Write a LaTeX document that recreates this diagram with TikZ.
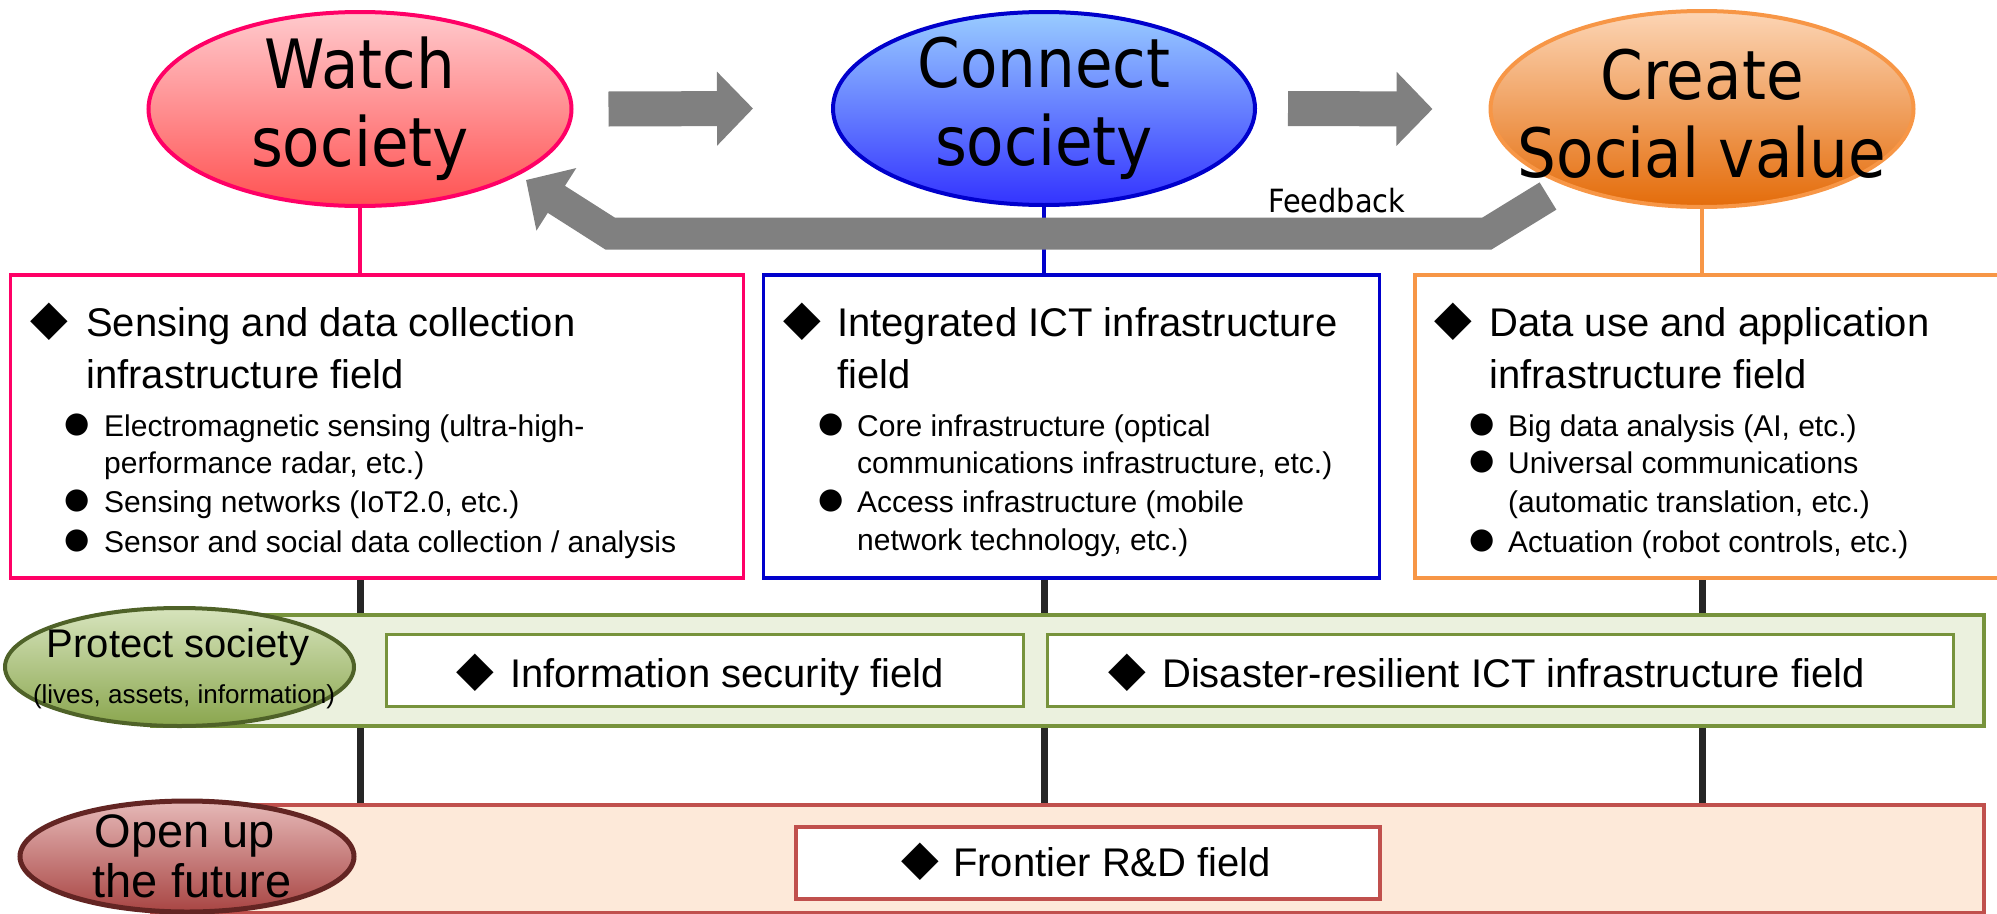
\documentclass[tikz,border=0pt]{standalone}
\usepackage{fontspec}
\setmainfont{Liberation Sans}
\newfontfamily\ellfont[FakeStretch=0.9]{DejaVu Sans}
\newfontfamily\symfont{DejaVu Sans}
\usetikzlibrary{shapes.geometric,arrows.meta,backgrounds}
\definecolor{wpink}{HTML}{FF0066}
\definecolor{wtop}{HTML}{FFCACD}
\definecolor{wbot}{HTML}{FF5252}
\definecolor{cblue}{HTML}{0000CC}
\definecolor{ctop}{HTML}{99CCFF}
\definecolor{cbot}{HTML}{3333FF}
\definecolor{corange}{HTML}{F79646}
\definecolor{otop}{HTML}{FCD5B5}
\definecolor{obot}{HTML}{E46C0A}
\definecolor{arrgray}{HTML}{808080}
\definecolor{gline}{HTML}{77933C}
\definecolor{gfill}{HTML}{EBF1DE}
\definecolor{gdark}{HTML}{4F6228}
\definecolor{gtop}{HTML}{D7E4BD}
\definecolor{gbot}{HTML}{8AA64E}
\definecolor{rline}{HTML}{C0504D}
\definecolor{rfill}{HTML}{FDE9D9}
\definecolor{rdark}{HTML}{632523}
\definecolor{rtop}{HTML}{E6B9B8}
\definecolor{rbot}{HTML}{A84543}
\definecolor{conncol}{HTML}{262626}
\begin{document}
\begin{tikzpicture}[x=1pt,y=-1pt,
  ell/.style={ellipse, inner sep=0pt, line width=4pt},
  elltext/.style={align=center, inner sep=0pt, font=\ellfont\fontsize{68}{78}\selectfont},
  fieldbox/.style={draw, line width=3.5pt, fill=white, anchor=north west, inner sep=0pt},
  band/.style={draw, line width=3.5pt, anchor=north west, inner sep=0pt},
  head/.style={anchor=base west, inner sep=0pt, font=\fontsize{40}{48}\selectfont},
  sub/.style={anchor=base west, inner sep=0pt, font=\fontsize{30}{36}\selectfont},
  dia/.style={anchor=center, inner sep=0pt, font=\symfont\fontsize{49}{54}\selectfont},
  dot/.style={anchor=center, inner sep=0pt, font=\symfont\fontsize{29}{34}\selectfont},
  flowarrow/.style={arrgray, line width=35pt, -{Triangle[length=36pt,width=72pt]}},
  fbarrow/.style={arrgray, line width=32pt, line join=miter, -{Triangle[length=36pt,width=72pt]}},
  stem/.style={line width=4pt},
  conn/.style={conncol, line width=7pt}
]
\useasboundingbox (0,0) rectangle (1997,913);

% top ellipses
\node[ell, draw=wpink, top color=wtop, bottom color=wbot, minimum width=423pt, minimum height=194pt] (watch) at (360,109) {};
\node[elltext] (watchtxt) at (watch.center) {Watch\\society};
\node[ell, draw=cblue, top color=ctop, bottom color=cbot, minimum width=422pt, minimum height=193pt] (connect) at (1044,108.5) {};
\node[elltext] (connecttxt) at (connect.center) {Connect\\society};
\node[ell, draw=corange, top color=otop, bottom color=obot, minimum width=423pt, minimum height=196pt] (create) at (1702,109) {};
\node[elltext] (createtxt) at ([yshift=-5pt]create.center) {Create\\Social value};

% flow arrows
\draw[flowarrow] ([xshift=35pt]watch.east) -- ([xshift=-78pt]connect.west);
\draw[flowarrow] ([xshift=31pt]connect.east) -- ([xshift=-56pt]create.west);

% field boxes
\node[fieldbox, draw=wpink, minimum width=733pt, minimum height=303pt] (wbox) at (8.7,273) {};
\node[fieldbox, draw=cblue, minimum width=616pt, minimum height=303pt] (cbox) at (761.5,273) {};
\node[fieldbox, draw=corange, minimum width=600pt, minimum height=303pt] (obox) at (1413,273) {};

% pink box text
\node[dia] at (49,322) {◆};
\node[head] at (86,336) {Sensing and data collection};
\node[head] at (86,388) {infrastructure field};
\node[dot] at (77,425) {●};
\node[sub] at (104,436) {Electromagnetic sensing (ultra-high-};
\node[sub] at (104,473) {performance radar, etc.)};
\node[dot] at (77,501) {●};
\node[sub] at (104,512) {Sensing networks (IoT2.0, etc.)};
\node[dot] at (77,541) {●};
\node[sub] at (104,552) {Sensor and social data collection / analysis};

% blue box text
\node[dia] at (802,322) {◆};
\node[head] at (837,336) {Integrated ICT infrastructure};
\node[head] at (837,388) {field};
\node[dot] at (831,425) {●};
\node[sub] at (857,436) {Core infrastructure (optical};
\node[sub] at (857,473) {communications infrastructure, etc.)};
\node[dot] at (831,501) {●};
\node[sub] at (857,512) {Access infrastructure (mobile};
\node[sub] at (857,550) {network technology, etc.)};

% orange box text
\node[dia] at (1453,322) {◆};
\node[head] at (1489,336) {Data use and application};
\node[head] at (1489,388) {infrastructure field};
\node[dot] at (1482,425) {●};
\node[sub] at (1508,436) {Big data analysis (AI, etc.)};
\node[dot] at (1482,462) {●};
\node[sub] at (1508,473) {Universal communications};
\node[sub] at (1508,512) {(automatic translation, etc.)};
\node[dot] at (1482,541) {●};
\node[sub] at (1508,552) {Actuation (robot controls, etc.)};

% protect band
\node[band, draw=gline, fill=gfill, minimum width=1832pt, minimum height=111pt] (pband) at (150,613) {};
\node[fieldbox, draw=gline, line width=3pt, minimum width=637pt, minimum height=72pt] (infobox) at (385,633) {};
\node[fieldbox, draw=gline, line width=3pt, minimum width=906pt, minimum height=72pt] (disbox) at (1046,633) {};
\node[dia] at (475,673) {◆};
\node[head] at (510,687) {Information security field};
\node[dia] at (1127,673) {◆};
\node[head] at (1162,687) {Disaster-resilient ICT infrastructure field};
\node[ell, draw=gdark, top color=gtop, bottom color=gbot, minimum width=349pt, minimum height=118pt] (protect) at (179.5,667) {};
\node[anchor=base, inner sep=0pt, font=\fontsize{40}{44}\selectfont] (protecttxt) at (178,657) {Protect society};
\node[anchor=base, inner sep=0pt, font=\fontsize{26}{30}\selectfont] (protectsub) at (184,703) {(lives, assets, information)};

% frontier band
\node[band, draw=rline, fill=rfill, minimum width=1832pt, minimum height=108pt] (fband) at (150,803) {};
\node[fieldbox, draw=rline, line width=4pt, minimum width=584pt, minimum height=72pt] (frontbox) at (794,825) {};
\node[dia] at (920,862) {◆};
\node[head] at (953,876) {Frontier R\&D field};
\node[ell, draw=rdark, line width=5pt, top color=rtop, bottom color=rbot, minimum width=334pt, minimum height=111pt] (openup) at (187,856.5) {};
\node[anchor=base, inner sep=0pt, font=\fontsize{47}{50}\selectfont] (opentxt1) at (185,847) {Open up};
\node[anchor=base, inner sep=0pt, font=\fontsize{47}{50}\selectfont] (opentxt2) at (192,897) {the future};

% stems and connectors (behind)
\begin{pgfonlayer}{background}
\draw[stem, wpink] (watch.south) -- (watch.south |- wbox.north);
\draw[stem, cblue] (connect.south) -- (connect.south |- cbox.north);
\draw[stem, corange] (create.south) -- (create.south |- obox.north);
\draw[conn] (watch.south |- wbox.south) -- (watch.south |- fband.north);
\draw[conn] (connect.south |- cbox.south) -- (connect.south |- fband.north);
\draw[conn] (create.south |- obox.south) -- (create.south |- fband.north);
\end{pgfonlayer}

% feedback arrow
\coordinate (fbs) at (1548,196);
\coordinate (fb1) at (1487,233.5);
\coordinate (fb2) at (610,233.5);
\coordinate (fbe) at (526,180);
\draw[fbarrow] (fbs) -- (fb1) -- (fb2) -- (fbe);
\node[anchor=base west, inner sep=0pt, font=\ellfont\fontsize{32}{36}\selectfont] (fblabel) at (1268,212) {Feedback};
\end{tikzpicture}
\end{document}
